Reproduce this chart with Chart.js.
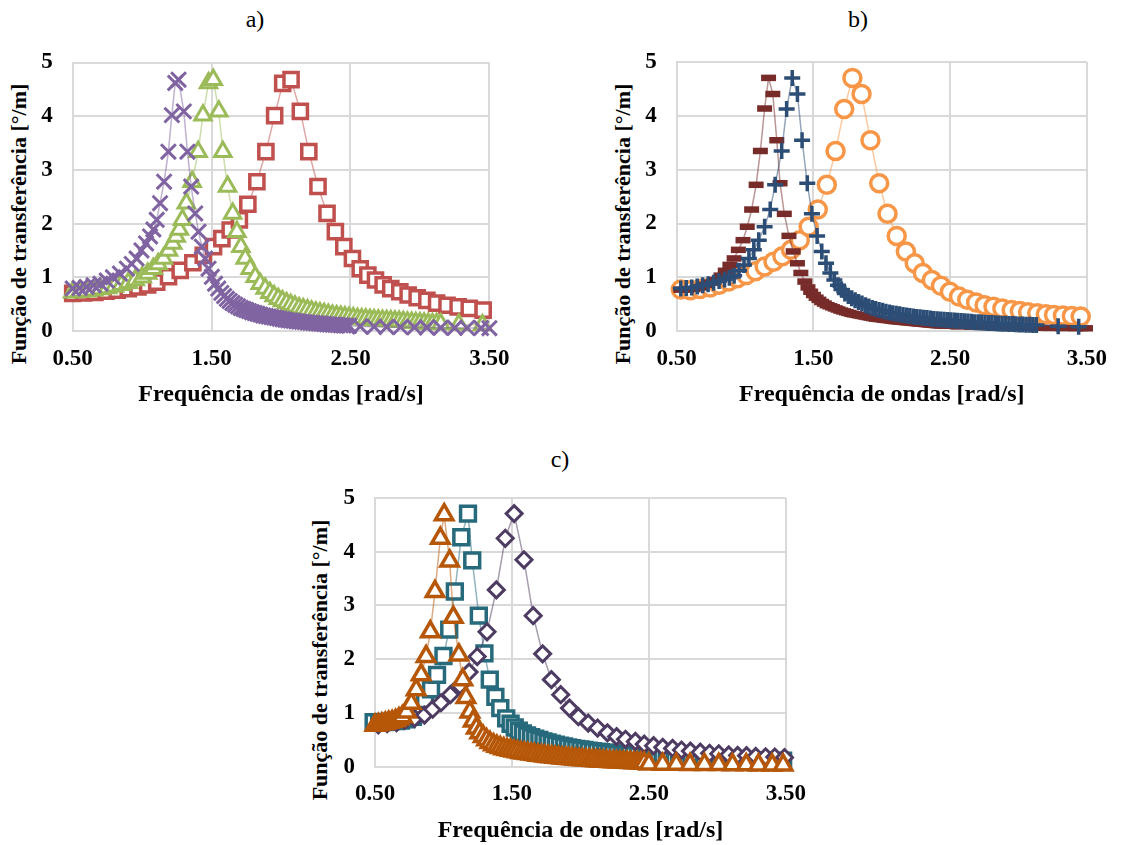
<!DOCTYPE html>
<html>
<head>
<meta charset="utf-8">
<script src="https://cdn.jsdelivr.net/npm/chart.js@4.4.1/dist/chart.umd.min.js"></script>
<style>
  html, body { margin: 0; padding: 0; background: #ffffff; }
  body { width: 1121px; height: 845px; position: relative; overflow: hidden;
         font-family: 'Liberation Serif', 'Times New Roman', serif; color: #000; }
  canvas.panel { position: absolute; }
  .tag { position: absolute; font-size: 24px; line-height: 1; transform: translateX(-50%); white-space: nowrap; }
  .ytitle { position: absolute; font-weight: bold; font-size: 22px; line-height: 1; white-space: nowrap;
            transform: translate(-50%, -50%) rotate(-90deg); }
</style>
</head>
<body>
<div class="tag" style="left:255px; top:7px;">a)</div>
<div class="tag" style="left:858px; top:7px;">b)</div>
<div class="tag" style="left:560px; top:447px;">c)</div>

<div class="ytitle" style="left:19px; top:224px;">Função de transferência [°/m]</div>
<div class="ytitle" style="left:623px; top:224px;">Função de transferência [°/m]</div>
<div class="ytitle" style="left:320px; top:660px;">Função de transferência [°/m]</div>

<canvas id="chartA" class="panel" width="530" height="420" style="left:0px; top:0px;"></canvas>
<canvas id="chartB" class="panel" width="561" height="420" style="left:560px; top:0px;"></canvas>
<canvas id="chartC" class="panel" width="520" height="405" style="left:300px; top:440px;"></canvas>

<script>
// Axis ticks and labels
const xTicks = [0.5, 1.5, 2.5, 3.5];
const yTicks = [0, 1, 2, 3, 4, 5];
const xTitle = 'Frequência de ondas [rad/s]';

// Panel a) — [frequency, transfer function]
const aPurple = [
  [0.50,0.79],[0.55,0.80],[0.60,0.82],[0.65,0.85],[0.70,0.88],[0.745,0.94],[0.79,1.00],[0.84,1.07],
  [0.89,1.16],[0.925,1.25],[0.96,1.35],[0.995,1.50],[1.028,1.63],[1.057,1.76],[1.081,1.89],[1.105,2.07],
  [1.129,2.38],[1.158,2.78],[1.189,3.34],[1.214,4.02],[1.238,4.62],[1.262,4.68],[1.30,4.09],[1.326,3.34],
  [1.353,2.69],[1.382,2.19],[1.406,1.85],[1.43,1.57],[1.454,1.35],[1.478,1.16],[1.502,1.01],[1.525,0.88],
  [1.548,0.79],[1.57,0.71],[1.59,0.65],[1.61,0.60],[1.63,0.56],[1.65,0.52],[1.67,0.49],[1.69,0.46],
  [1.71,0.43],[1.73,0.41],[1.75,0.39],[1.77,0.37],[1.79,0.35],[1.81,0.335],[1.83,0.32],[1.85,0.305],
  [1.87,0.29],[1.89,0.28],[1.91,0.27],[1.93,0.26],[1.95,0.25],[1.97,0.24],[1.99,0.23],[2.01,0.22],
  [2.03,0.21],[2.05,0.20],[2.07,0.195],[2.09,0.19],[2.11,0.18],[2.13,0.175],[2.15,0.17],[2.17,0.165],
  [2.19,0.16],[2.21,0.155],[2.23,0.15],[2.25,0.145],[2.27,0.14],[2.29,0.135],[2.31,0.13],[2.33,0.125],
  [2.35,0.12],[2.37,0.118],[2.39,0.115],[2.41,0.11],[2.43,0.107],[2.45,0.104],[2.47,0.10],[2.49,0.097],
  [2.57,0.085],[2.67,0.08],[2.76,0.076],[2.86,0.072],[2.96,0.068],[3.05,0.065],[3.15,0.062],[3.25,0.06],
  [3.34,0.058],[3.44,0.055],[3.50,0.053]
];
const aGreen = [
  [0.50,0.72],[0.55,0.73],[0.60,0.74],[0.65,0.76],[0.70,0.78],[0.75,0.80],[0.80,0.83],[0.85,0.86],
  [0.90,0.90],[0.95,0.95],[1.00,1.00],[1.04,1.07],[1.08,1.16],[1.115,1.25],[1.153,1.35],[1.19,1.50],
  [1.22,1.63],[1.245,1.76],[1.268,1.89],[1.29,2.07],[1.318,2.38],[1.36,2.78],[1.403,3.34],[1.438,4.02],
  [1.478,4.62],[1.512,4.68],[1.552,4.09],[1.581,3.34],[1.615,2.69],[1.652,2.19],[1.682,1.85],[1.711,1.57],
  [1.742,1.35],[1.778,1.16],[1.814,1.01],[1.85,0.88],[1.886,0.79],[1.92,0.71],[1.95,0.65],[1.98,0.60],
  [2.01,0.56],[2.04,0.52],[2.07,0.49],[2.10,0.46],[2.13,0.43],[2.16,0.41],[2.19,0.39],[2.22,0.37],
  [2.25,0.35],[2.28,0.335],[2.31,0.32],[2.34,0.305],[2.37,0.29],[2.40,0.28],[2.43,0.27],[2.46,0.26],
  [2.49,0.25],[2.52,0.24],[2.55,0.23],[2.58,0.225],[2.61,0.22],[2.64,0.21],[2.67,0.205],[2.70,0.20],
  [2.73,0.195],[2.76,0.19],[2.79,0.185],[2.82,0.18],[2.85,0.175],[2.88,0.17],[2.91,0.165],[2.94,0.16],
  [2.97,0.155],[3.00,0.15],[3.03,0.145],[3.06,0.14],[3.09,0.137],[3.12,0.134],[3.15,0.13],[3.28,0.12],
  [3.45,0.11]
];
const aRed = [
  [0.50,0.70],[0.58,0.71],[0.66,0.72],[0.74,0.74],[0.82,0.76],[0.90,0.79],[0.97,0.82],[1.04,0.86],
  [1.105,0.91],[1.19,1.01],[1.274,1.13],[1.365,1.27],[1.44,1.41],[1.514,1.57],[1.574,1.72],[1.634,1.88],
  [1.70,2.07],[1.761,2.36],[1.826,2.78],[1.891,3.34],[1.954,4.01],[2.012,4.61],[2.072,4.68],[2.139,4.09],
  [2.20,3.34],[2.266,2.69],[2.331,2.19],[2.391,1.85],[2.452,1.57],[2.514,1.35],[2.57,1.16],[2.625,1.04],
  [2.68,0.95],[2.735,0.86],[2.79,0.79],[2.855,0.73],[2.915,0.67],[2.98,0.62],[3.05,0.57],[3.12,0.52],
  [3.195,0.48],[3.275,0.45],[3.355,0.42],[3.455,0.39]
];

// Panel b)
const bDarkRed = [
  [0.53,0.77],[0.572,0.77],[0.62,0.78],[0.668,0.81],[0.716,0.86],[0.752,0.90],[0.788,0.95],[0.824,1.03],
  [0.855,1.12],[0.889,1.23],[0.92,1.35],[0.951,1.51],[0.985,1.69],[1.016,1.94],[1.048,2.26],[1.081,2.72],
  [1.112,3.35],[1.143,4.14],[1.172,4.71],[1.203,4.41],[1.232,3.55],[1.256,2.75],[1.287,2.18],[1.321,1.77],
  [1.352,1.48],[1.383,1.26],[1.408,1.08],[1.437,0.92],[1.46,0.81],[1.48,0.73],[1.50,0.67],[1.52,0.62],
  [1.54,0.58],[1.56,0.54],[1.58,0.51],[1.60,0.48],[1.62,0.46],[1.64,0.44],[1.66,0.42],[1.68,0.40],
  [1.70,0.38],[1.72,0.365],[1.74,0.35],[1.76,0.335],[1.78,0.32],[1.80,0.31],[1.82,0.30],[1.84,0.29],
  [1.86,0.28],[1.88,0.27],[1.90,0.26],[1.92,0.25],[1.94,0.24],[1.96,0.23],[1.98,0.225],[2.00,0.22],
  [2.02,0.21],[2.04,0.205],[2.06,0.20],[2.08,0.19],[2.10,0.185],[2.12,0.18],[2.14,0.175],[2.16,0.17],
  [2.18,0.165],[2.20,0.16],[2.22,0.155],[2.24,0.15],[2.26,0.145],[2.28,0.14],[2.30,0.135],[2.32,0.13],
  [2.34,0.125],[2.36,0.12],[2.38,0.115],[2.40,0.11],[2.42,0.107],[2.44,0.104],[2.46,0.10],[2.48,0.097],
  [2.56,0.085],[2.66,0.08],[2.75,0.075],[2.85,0.07],[2.94,0.067],[3.04,0.064],[3.14,0.061],[3.23,0.058],
  [3.32,0.055],[3.42,0.052],[3.49,0.05]
];
const bBlue = [
  [0.53,0.79],[0.57,0.80],[0.61,0.81],[0.65,0.83],[0.69,0.85],[0.73,0.87],[0.77,0.90],[0.81,0.93],
  [0.85,0.96],[0.885,0.99],[0.92,1.03],[0.956,1.12],[0.992,1.23],[1.028,1.35],[1.064,1.51],[1.10,1.69],
  [1.143,1.94],[1.184,2.26],[1.22,2.72],[1.268,3.35],[1.304,4.13],[1.345,4.71],[1.383,4.41],[1.417,3.55],
  [1.455,2.75],[1.489,2.18],[1.527,1.77],[1.561,1.48],[1.592,1.26],[1.624,1.08],[1.653,0.95],[1.68,0.85],
  [1.705,0.77],[1.73,0.70],[1.755,0.65],[1.78,0.61],[1.805,0.57],[1.83,0.54],[1.855,0.51],[1.88,0.48],
  [1.905,0.455],[1.93,0.43],[1.955,0.41],[1.98,0.39],[2.005,0.375],[2.03,0.36],[2.055,0.345],[2.08,0.33],
  [2.105,0.32],[2.13,0.31],[2.155,0.30],[2.18,0.29],[2.205,0.28],[2.23,0.27],[2.255,0.262],[2.28,0.255],
  [2.305,0.248],[2.33,0.24],[2.355,0.232],[2.38,0.225],[2.405,0.22],[2.43,0.215],[2.455,0.21],[2.48,0.205],
  [2.505,0.20],[2.53,0.195],[2.555,0.19],[2.58,0.185],[2.605,0.18],[2.63,0.175],[2.655,0.17],[2.68,0.165],
  [2.705,0.162],[2.73,0.158],[2.755,0.154],[2.78,0.15],[2.805,0.147],[2.83,0.143],[2.855,0.14],[2.88,0.137],
  [2.905,0.134],[2.93,0.131],[2.955,0.128],[2.98,0.125],[3.005,0.122],[3.03,0.12],[3.055,0.117],[3.08,0.115],
  [3.105,0.112],[3.13,0.11],[3.29,0.09],[3.44,0.08]
];
const bOrange = [
  [0.53,0.77],[0.60,0.76],[0.67,0.78],[0.745,0.81],[0.81,0.86],[0.88,0.92],[0.944,0.98],[1.009,1.04],
  [1.076,1.11],[1.143,1.20],[1.208,1.29],[1.273,1.39],[1.336,1.51],[1.40,1.69],[1.465,1.94],[1.532,2.26],
  [1.598,2.72],[1.662,3.35],[1.725,4.13],[1.785,4.71],[1.852,4.41],[1.917,3.55],[1.981,2.75],[2.042,2.18],
  [2.109,1.77],[2.176,1.48],[2.241,1.26],[2.30,1.08],[2.366,0.95],[2.433,0.84],[2.498,0.73],[2.565,0.64],
  [2.625,0.58],[2.69,0.53],[2.752,0.48],[2.817,0.45],[2.882,0.42],[2.95,0.39],[3.01,0.37],[3.07,0.35],
  [3.137,0.33],[3.20,0.31],[3.26,0.30],[3.325,0.29],[3.39,0.28],[3.455,0.27]
];

// Panel c)
const cOrange = [
  [0.50,0.77],[0.525,0.78],[0.55,0.795],[0.575,0.81],[0.60,0.825],[0.625,0.84],[0.65,0.86],[0.675,0.89],
  [0.70,0.93],[0.73,1.02],[0.765,1.18],[0.801,1.43],[0.837,1.71],[0.873,2.05],[0.904,2.51],[0.938,3.26],
  [0.977,4.25],[1.005,4.69],[1.045,3.83],[1.072,2.78],[1.112,2.08],[1.141,1.62],[1.164,1.29],[1.193,1.02],
  [1.217,0.85],[1.24,0.72],[1.265,0.63],[1.29,0.56],[1.315,0.50],[1.34,0.45],[1.365,0.41],[1.39,0.38],
  [1.415,0.355],[1.44,0.335],[1.465,0.32],[1.49,0.305],[1.515,0.29],[1.54,0.28],[1.565,0.265],[1.59,0.255],
  [1.615,0.245],[1.64,0.235],[1.665,0.225],[1.69,0.215],[1.715,0.208],[1.74,0.20],[1.765,0.192],[1.79,0.185],
  [1.815,0.178],[1.84,0.17],[1.865,0.164],[1.89,0.158],[1.915,0.152],[1.94,0.146],[1.965,0.14],[1.99,0.135],
  [2.015,0.13],[2.04,0.125],[2.065,0.12],[2.09,0.116],[2.115,0.112],[2.14,0.108],[2.165,0.104],[2.19,0.10],
  [2.215,0.096],[2.24,0.093],[2.265,0.09],[2.29,0.087],[2.315,0.084],[2.34,0.081],[2.365,0.078],[2.39,0.075],
  [2.415,0.072],[2.44,0.07],[2.465,0.068],[2.50,0.05],[2.60,0.047],[2.70,0.045],[2.80,0.043],[2.905,0.041],
  [3.01,0.039],[3.11,0.037],[3.21,0.035],[3.30,0.033],[3.40,0.031],[3.48,0.03]
];
const cTeal = [
  [0.49,0.83],[0.53,0.83],[0.57,0.83],[0.61,0.84],[0.65,0.85],[0.69,0.86],[0.73,0.88],[0.777,0.93],
  [0.825,1.09],[0.866,1.24],[0.909,1.44],[0.953,1.71],[1.00,2.06],[1.042,2.55],[1.083,3.26],[1.13,4.27],
  [1.179,4.71],[1.21,3.84],[1.258,2.81],[1.299,2.11],[1.338,1.62],[1.379,1.30],[1.415,1.09],[1.458,0.90],
  [1.49,0.80],[1.52,0.73],[1.55,0.67],[1.58,0.62],[1.61,0.58],[1.64,0.55],[1.67,0.52],[1.70,0.50],
  [1.73,0.47],[1.76,0.45],[1.79,0.43],[1.82,0.41],[1.85,0.39],[1.88,0.375],[1.91,0.36],[1.94,0.345],
  [1.97,0.33],[2.00,0.32],[2.03,0.31],[2.06,0.30],[2.09,0.29],[2.12,0.28],[2.15,0.27],[2.18,0.262],
  [2.21,0.255],[2.24,0.248],[2.27,0.241],[2.30,0.235],[2.33,0.229],[2.36,0.223],[2.39,0.217],[2.42,0.211],
  [2.45,0.206],[2.48,0.201],[2.51,0.196],[2.54,0.191],[2.57,0.187],[2.60,0.183],[2.63,0.179],[2.66,0.175],
  [2.69,0.171],[2.72,0.167],[2.75,0.164],[2.78,0.161],[2.81,0.158],[2.84,0.155],[2.87,0.152],[2.90,0.149],
  [2.93,0.146],[2.96,0.143],[2.99,0.14],[3.02,0.137],[3.05,0.134],[3.08,0.131],[3.11,0.128],[3.14,0.126],
  [3.17,0.124],[3.20,0.122],[3.33,0.115],[3.48,0.11]
];
const cPurple = [
  [0.524,0.78],[0.589,0.80],[0.657,0.82],[0.717,0.86],[0.789,0.90],[0.861,0.96],[0.921,1.07],[0.982,1.19],
  [1.05,1.34],[1.12,1.51],[1.187,1.76],[1.246,2.05],[1.318,2.51],[1.386,3.29],[1.451,4.25],[1.516,4.71],
  [1.588,3.85],[1.655,2.81],[1.724,2.10],[1.788,1.62],[1.856,1.34],[1.92,1.09],[1.985,0.93],[2.057,0.81],
  [2.125,0.72],[2.197,0.63],[2.264,0.56],[2.329,0.51],[2.401,0.47],[2.466,0.42],[2.534,0.39],[2.601,0.36],
  [2.673,0.34],[2.738,0.31],[2.803,0.29],[2.875,0.27],[2.943,0.25],[3.01,0.24],[3.083,0.22],[3.148,0.21],
  [3.213,0.205],[3.28,0.19],[3.352,0.185],[3.419,0.18],[3.49,0.17]
];

const serif = "'Liberation Serif', 'Times New Roman', serif";
const tickFont = { family: serif, size: 23, weight: 'bold' };
const titleFont = { family: serif, size: 24, weight: 'bold' };
const gridColor = '#d9d9d9';

function series(points, color, lineColor, style, radius, width) {
  return {
    data: points.map(p => ({ x: p[0], y: p[1] })),
    showLine: true,
    borderColor: lineColor,
    borderWidth: 1.5,
    tension: 0,
    pointStyle: style,
    pointRadius: radius,
    pointHoverRadius: radius,
    pointBorderColor: color,
    pointBackgroundColor: '#ffffff',
    pointBorderWidth: width,
    clip: false
  };
}

function panel(id, datasets, box) {
  new Chart(document.getElementById(id), {
    type: 'scatter',
    data: { datasets },
    options: {
      responsive: false,
      animation: false,
      devicePixelRatio: 1,
      events: [],
      layout: { padding: { left: 0, top: box.top, right: box.right, bottom: 0 } },
      plugins: { legend: { display: false }, tooltip: { enabled: false } },
      scales: {
        x: {
          type: 'linear', min: 0.5, max: 3.5,
          afterBuildTicks: s => { s.ticks = xTicks.map(v => ({ value: v })); },
          afterFit: s => { s.height = box.xh; },
          grid: { color: gridColor, lineWidth: 2, drawTicks: false },
          border: { color: gridColor, width: 2 },
          ticks: { padding: 14, color: '#000', font: tickFont, maxRotation: 0, autoSkip: false,
                   callback: v => Number(v).toFixed(2) },
          title: { display: true, text: xTitle, color: '#000', font: titleFont,
                   padding: { top: 0, bottom: box.tb } }
        },
        y: {
          type: 'linear', min: 0, max: 5,
          afterBuildTicks: s => { s.ticks = yTicks.map(v => ({ value: v })); },
          afterFit: s => { s.width = box.yw; },
          grid: { color: gridColor, lineWidth: 2, drawTicks: false },
          border: { color: gridColor, width: 2 },
          ticks: { padding: 20, color: '#000', font: tickFont, callback: v => String(v) }
        }
      }
    }
  });
}

panel('chartA', [
  series(aPurple, '#8064A2', 'rgba(128,100,162,0.5)', 'crossRot', 10.5, 3),
  series(aGreen,  '#9BBB59', 'rgba(155,187,89,0.5)',  'triangle', 9.5, 3),
  series(aRed,    '#C0504D', 'rgba(192,80,77,0.5)',   'rect', 10, 3.5)
], { top: 62.5, right: 40.6, yw: 72.7, xh: 89, tb: 10.6 });

panel('chartB', [
  series(bBlue,    '#2C4D75', 'rgba(44,77,117,0.5)',  'cross', 8, 3.5),
  series(bDarkRed, '#772C2A', 'rgba(119,44,42,0.5)',  'line', 7.5, 6.5),
  series(bOrange,  '#F79646', 'rgba(247,150,70,0.5)', 'circle', 8.5, 3.5)
], { top: 62.3, right: 28, yw: 116.7, xh: 89, tb: 10.6 });

panel('chartC', [
  series(cOrange, '#B65708', 'rgba(182,87,8,0.5)',   'triangle', 10, 3.5),
  series(cPurple, '#4D3B62', 'rgba(77,59,98,0.5)',   'rectRot', 8, 3),
  series(cTeal,   '#276A7C', 'rgba(39,106,124,0.5)', 'rect', 10.5, 3.5)
], { top: 58, right: 30, yw: 75, xh: 78.3, tb: 0 });
</script>
</body>
</html>
